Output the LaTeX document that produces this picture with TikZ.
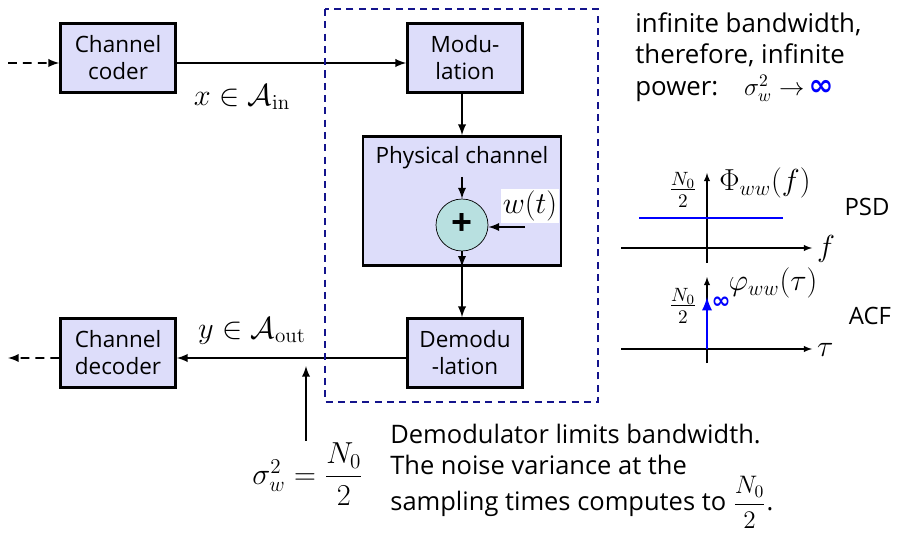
\documentclass[tikz,border=0pt]{standalone}
\usepackage{amsmath,amssymb}
\usepackage[no-math]{fontspec}
\setmainfont{Open Sans}
\newfontfamily\symfont{DejaVu Sans}
\usepackage{tikz}
\usetikzlibrary{positioning}
\definecolor{boxfill}{RGB}{221,221,250}
\definecolor{sumfill}{RGB}{184,224,224}
\definecolor{navy}{RGB}{20,20,140}
\newcommand{\inftysym}{{\symfont\bfseries ∞}}

\tikzset{
  blk/.style={draw,line width=1.5pt,fill=boxfill,minimum width=2.3cm,
    minimum height=1.38cm,align=center,inner sep=1pt,
    font=\fontsize{12.8}{15.3}\selectfont},
  sumc/.style={draw,circle,thin,fill=sumfill,minimum size=1.04cm,inner sep=0pt,
    font=\fontsize{21}{21}\selectfont\bfseries},
  mth/.style={font=\fontsize{16.5}{19}\selectfont,inner sep=1pt},
  note/.style={align=left,anchor=west,inner sep=0pt,font=\fontsize{14.7}{18}\selectfont},
  conn/.style={line width=1.1pt,->},
  axis/.style={line width=0.6pt,->}
}

\begin{document}
\begin{tikzpicture}[x=0.02cm,y=-0.02cm,>=latex]
 \useasboundingbox (0,0) rectangle (898,533);
 % transmission chain
 \node[blk] (coder) at (118,58) {Channel\\coder};
 \node[blk] (mod) at (465,58) {Modu-\\lation};
 \node[blk,minimum width=3.96cm,minimum height=2.58cm] (phys) at (462,201) {};
 \node[below=3pt of phys.north,font=\fontsize{12.8}{15.3}\selectfont] (physname) {Physical channel};
 \node[sumc] (sum) at (462,225) {+};
 \node[blk] (demod) at (465,353) {Demodu\\-lation};
 \node[blk] (decoder) at (118,353) {Channel\\decoder};
 \coordinate (in) at (8,63);
 \coordinate (out) at (8,358);
 \coordinate (sumin) at (462,177);
 \coordinate (win) at (525,227);
 \node[mth,fill=white] (wlbl) at (530,206) {$w(t)$};
 \draw[conn,dash pattern=on 5pt off 3.5pt] (in) -- ([yshift=-0.1cm]coder.west);
 \draw[conn] ([yshift=-0.1cm]coder.east) -- ([yshift=-0.1cm]mod.west);
 \draw[conn] (mod.south -| phys.north) -- (phys.north);
 \draw[conn] (sumin) -- (sum.north);
 \draw[conn] (win) -- (win -| sum.east);
 \draw[conn] (sum.south) -- (phys.south);
 \draw[conn] (phys.south) -- (phys.south |- demod.north);
 \draw[conn] ([yshift=-0.1cm]demod.west) -- ([yshift=-0.1cm]decoder.east);
 \draw[conn,dash pattern=on 5pt off 3.5pt] ([yshift=-0.1cm]decoder.west) -- (out);
 \node[mth] (xlbl) at (242,97) {$x\in\mathcal{A}_{\mathrm{in}}$};
 \node[mth] (ylbl) at (252,331) {$y\in\mathcal{A}_{\mathrm{out}}$};
 % channel boundary
 \draw[navy,line width=1.2pt,dash pattern=on 4pt off 3pt] (325,9) rectangle (598,402);
 % noise after demodulation
 \node[mth,font=\fontsize{17}{20}\selectfont] (siglbl) at (308,474) {$\sigma_w^2=\dfrac{N_0}{2}$};
 \coordinate (tap) at (306,366);
 \draw[conn] (siglbl.north -| tap) -- (tap);
 \node[note,font=\fontsize{14.5}{17.6}\selectfont] (demodnote) at (390,476)
  {Demodulator limits bandwidth.\\The noise variance at the\\sampling times computes to $\dfrac{N_0}{2}$.};
 \node[note] (powernote) at (635,57)
  {infinite bandwidth,\\therefore, infinite\\power:\quad $\sigma_w^2\to$\,\textcolor{blue}{\fontsize{17}{18}\selectfont\inftysym}};
 % PSD
 \draw[axis] (621,248) -- (812,248);
 \draw[axis] (707,263) -- (707,173);
 \draw[blue,line width=1.6pt] (639,218) -- (783,218);
 \node[mth,font=\fontsize{16}{18}\selectfont] (psdlvl) at (683,190) {$\frac{N_0}{2}$};
 \node[mth,font=\fontsize{17.5}{20}\selectfont] (psdname) at (765,183) {$\Phi_{ww}(f)$};
 \node[mth,anchor=west] (faxis) at (815,249) {$f$};
 \node[font=\fontsize{13.6}{16}\selectfont] (psd) at (867,207) {PSD};
 % ACF
 \draw[axis] (621,349) -- (812,349);
 \draw[axis] (707,363) -- (707,277);
 \draw[blue,line width=1.6pt,->] (707,349) -- (707,297);
 \node[text=blue,font=\fontsize{13}{14}\selectfont,inner sep=0pt] (acfinf) at (721,303) {\inftysym};
 \node[mth,font=\fontsize{16}{18}\selectfont] (acflvl) at (683,306) {$\frac{N_0}{2}$};
 \node[mth,font=\fontsize{17.5}{20}\selectfont] (acfname) at (773,283) {$\varphi_{ww}(\tau)$};
 \node[mth,anchor=west] (tauaxis) at (815,350) {$\tau$};
 \node[font=\fontsize{13.6}{16}\selectfont] (acf) at (870,316) {ACF};
\end{tikzpicture}
\end{document}
